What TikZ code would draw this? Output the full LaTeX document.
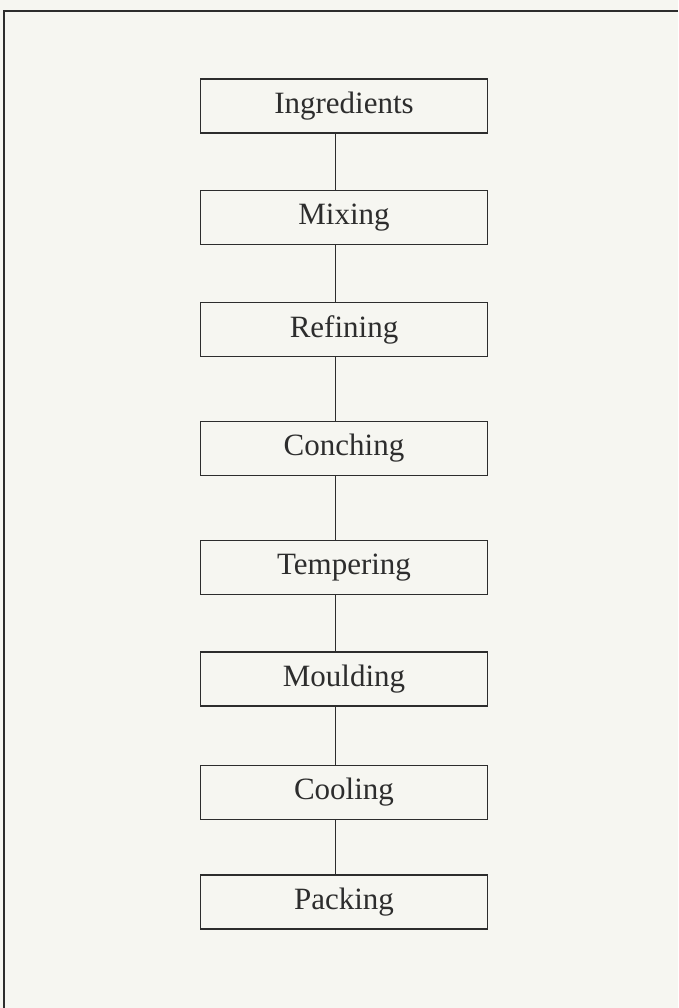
\documentclass[tikz,border=0pt]{standalone}
\usepackage{fontspec}
\setmainfont{Liberation Serif}
\definecolor{paper}{RGB}{246,246,241}
\definecolor{ink}{RGB}{45,45,45}
\begin{document}
\begin{tikzpicture}[x=1pt,y=-1pt,
  stepbox/.style={draw=ink, line width=1.3pt, rectangle, minimum width=287pt, minimum height=54pt, inner sep=0pt, font=\fontsize{31}{31}\selectfont, text=ink},
  link/.style={draw=ink, line width=1.3pt}]
\fill[paper] (0,0) rectangle (678,1008);
\useasboundingbox (0,0) rectangle (678,1008);
\draw[ink, line width=1.8pt] (4,1008) -- (4,11) -- (678,11);
\node[stepbox] (s1) at (344,106) {Ingredients};
\node[stepbox] (s2) at (344,217.5) {Mixing};
\node[stepbox] (s3) at (344,329.5) {Refining};
\node[stepbox] (s4) at (344,448.5) {Conching};
\node[stepbox] (s5) at (344,567.5) {Tempering};
\node[stepbox] (s6) at (344,679) {Moulding};
\node[stepbox] (s7) at (344,792.5) {Cooling};
\node[stepbox] (s8) at (344,902) {Packing};
\foreach \a/\b in {s1/s2,s2/s3,s3/s4,s4/s5,s5/s6,s6/s7,s7/s8}
  \draw[link] ([xshift=-8.5pt]\a.south) -- ([xshift=-8.5pt]\b.north);
\end{tikzpicture}
\end{document}
